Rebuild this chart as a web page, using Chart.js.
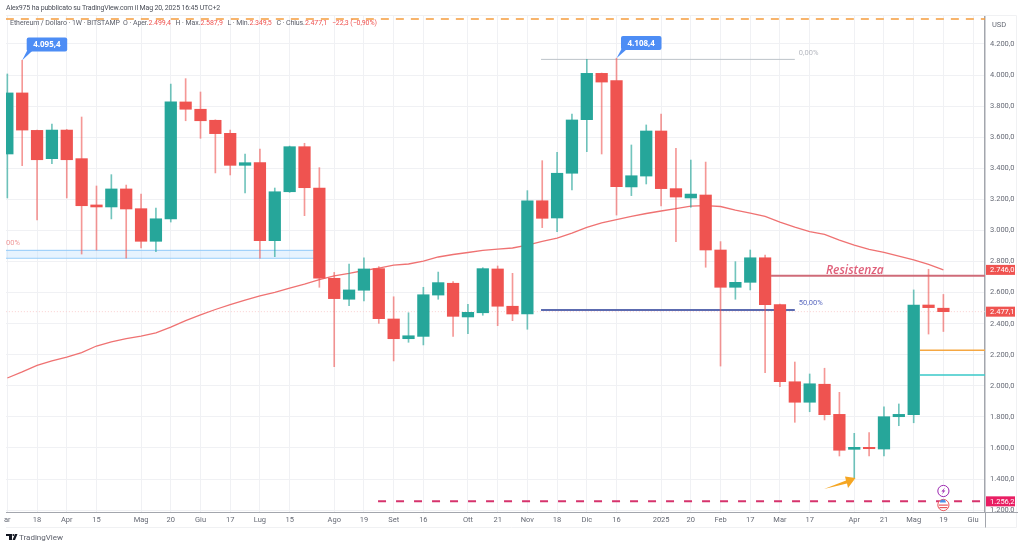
<!DOCTYPE html>
<html lang="it">
<head>
<meta charset="utf-8">
<title>Ethereum / Dollaro</title>
<script src="https://cdn.jsdelivr.net/npm/chart.js@4"></script>
<style>
  html, body { margin: 0; padding: 0; background: #fff; width: 1024px; height: 547px; overflow: hidden; }
  canvas { position: absolute; left: 0; top: 0; }
  .txt { position: absolute; white-space: nowrap; font-family: Roboto, sans-serif; color: #4a4e58; }
  #author { left: 6px; top: 3px; font-size: 7px; line-height: 10px; letter-spacing: -0.16px; }
  #legend { left: 10px; top: 18px; font-size: 7px; line-height: 10px; color: #5d606b; letter-spacing: -0.08px; }
  #legend b { font-weight: normal; color: #ef5350; margin-right: 3px; }
  #brand { left: 19px; top: 532px; font-size: 8px; line-height: 11px; color: #5d606b; }
</style>
</head>
<body>
<canvas id="chart" width="1024" height="547"></canvas>
<div class="txt" id="author">Alex975 ha pubblicato su TradingView.com il Mag 20, 2025 16:45 UTC+2</div>
<div class="txt" id="legend">Ethereum / Dollaro · 1W · BITSTAMP&nbsp; O · Aper.<b>2.499,4</b> H · Max.<b>2.587,9</b> L · Min.<b>2.349,5</b> C · Chius.<b>2.477,1</b> <b>−22,3 (−0,90%)</b></div>
<div class="txt" id="brand">TradingView</div>

<script>
// Weekly candles
const opens = [3492, 3885, 3644, 3462, 3646, 3462, 3164, 3151, 3267, 3140, 2930, 3074, 3827, 3780, 3709, 3625,
  3419, 3436, 2934, 3249, 3539, 3273, 2692, 2557, 2615, 2754, 2430, 2303, 2318, 2584, 2660, 2443,
  2470, 2752, 2512, 2462, 3191, 3080, 3368, 3713, 4011, 3964, 3280, 3350, 3640, 3269, 3209, 3228,
  2874, 2634, 2666, 2824, 2522, 2026, 1894, 2010, 1816, 1591, 1604, 1593, 1801, 1814, 2520, 2499.4];
const closes = [3885, 3646, 3455, 3646, 3455, 3159, 3151, 3267, 3138, 2930, 3075, 3827, 3780, 3706, 3623, 3419,
  3436, 2934, 3249, 3539, 3275, 2692, 2561, 2617, 2752, 2432, 2303, 2322, 2586, 2664, 2447, 2473,
  2754, 2512, 2462, 3191, 3078, 3368, 3711, 4011, 3955, 3281, 3352, 3640, 3269, 3215, 3234, 2874,
  2634, 2666, 2824, 2522, 2026, 1894, 2013, 1814, 1585, 1604, 1595, 1801, 1816, 2520, 2503, 2477.1];
const highs = [4007, 4095.4, 3646, 3685, 3650, 3730, 3286, 3359, 3292, 3234, 3144, 3942, 3977, 3891, 3712, 3646,
  3492, 3524, 3273, 3543, 3561, 3404, 2730, 2784, 2824, 2767, 2573, 2470, 2634, 2732, 2670, 2525,
  2760, 2771, 2724, 3256, 3449, 3503, 3749, 4101, 4013, 4108.4, 3550, 3679, 3749, 3529, 3453, 3440,
  2928, 2799, 2874, 2842, 2526, 2153, 2076, 2113, 1958, 1694, 1698, 1865, 1883, 2617, 2750, 2587.9];
const lows = [3209, 3417, 3067, 3430, 3209, 2848, 2874, 3074, 2822, 2887, 2863, 3054, 3706, 3593, 3370, 3357,
  3241, 2822, 2831, 3245, 3095, 2634, 2123, 2516, 2546, 2402, 2160, 2280, 2263, 2557, 2318, 2335,
  2454, 2387, 2419, 2364, 3018, 2992, 3260, 3507, 3492, 3099, 3224, 3299, 3157, 2928, 3149, 2763,
  2127, 2557, 2617, 2084, 1994, 1765, 1833, 1780, 1548, 1405, 1548, 1548, 1743, 1762, 2333, 2349.5];
const movingAvg = [2050, 2089, 2131, 2160, 2185, 2214, 2256, 2282, 2304, 2320, 2340, 2378, 2420, 2456, 2491, 2523,
  2552, 2578, 2602, 2629, 2655, 2684, 2707, 2723, 2742, 2758, 2777, 2784, 2803, 2829, 2845, 2858,
  2871, 2880, 2887, 2906, 2929, 2951, 2983, 3019, 3048, 3070, 3090, 3109, 3125, 3141, 3156, 3160,
  3154, 3131, 3112, 3090, 3054, 3022, 2993, 2974, 2938, 2906, 2878, 2858, 2835, 2810, 2781, 2746];

// Axis ticks
const yTickValues = [1200, 1400, 1600, 1800, 2000, 2200, 2400, 2600, 2800, 3000, 3200, 3400, 3600, 3800, 4000, 4200];
const xTickValues = [0, 2, 4, 6, 9, 11, 13, 15, 17, 19, 22, 24, 26, 28, 31, 33, 35, 37, 39, 41, 44, 46, 48, 50, 52, 54, 57, 59, 61, 63, 65];
const xTickLabels = ["ar", "18", "Apr", "15", "Mag", "20", "Giu", "17", "Lug", "15", "Ago", "19", "Set", "16", "Ott", "21",
  "Nov", "18", "Dic", "16", "2025", "20", "Feb", "17", "Mar", "17", "Apr", "21", "Mag", "19", "Giu"];

// Drawn levels: price, and where they start and stop in candle units
const topDashed = [4361, -0.1, 65.9];
const supportDashed = [1256.2, 24.95, 65.9];
const resistance = [2709, 51.4, 65.9];
const fibHalf = [2488, 35.92, 53];
const fibZero = [4101, 35.92, 53];
const orangeLevel = [2228, 61.42, 65.9];
const cyanLevel = [2069.5, 61.42, 65.9];
const lastPrice = [2477.1, -0.1, 65.9];
const zoneTop = [2872, -0.1, 21];
const zoneBottom = [2821, -0.1, 21];

const RED = "#ef5350";
const GREEN = "#26a69a";
const MUTED = "#666a75";

// 4200 -> "4.200,0"
function formatPrice(v) {
  const parts = v.toFixed(1).split(".");
  return parts[0].replace(/\B(?=(\d{3})+$)/g, ".") + "," + parts[1];
}

// Flat line between two candle positions
function levelDataset(level, color, width, dash, extra) {
  return Object.assign({
    type: "line",
    data: [{ x: level[1], y: level[0] }, { x: level[2], y: level[0] }],
    borderColor: color,
    borderWidth: width,
    borderDash: dash || [],
    pointRadius: 0,
    order: 5,
  }, extra || {});
}

const candleColors = opens.map((o, i) => (closes[i] >= o ? GREEN : RED));
const wickColors = opens.map((o, i) => (closes[i] >= o ? "rgba(38,166,154,0.65)" : "rgba(239,83,80,0.6)"));

const datasets = [
  {
    type: "bar",
    data: opens.map((o, i) => ({ x: i, y: [o, closes[i]] })),
    backgroundColor: candleColors,
    barThickness: 11.6,
    grouped: false,
    order: 1,
  },
  {
    type: "bar",
    data: lows.map((l, i) => ({ x: i, y: [l, highs[i]] })),
    backgroundColor: wickColors,
    barThickness: 1,
    grouped: false,
    order: 2,
  },
  {
    type: "line",
    data: movingAvg.map((v, i) => ({ x: i, y: v })),
    borderColor: "#ef7272",
    borderWidth: 1.3,
    pointRadius: 0,
    order: 4,
  },
  levelDataset(zoneTop, "#90caf9", 1, null, { fill: "+1", backgroundColor: "rgba(187,222,251,0.35)" }),
  levelDataset(zoneBottom, "#90caf9", 1),
  levelDataset(lastPrice, "#f9cfcf", 1, [1, 2]),
  levelDataset(topDashed, "#f59c3d", 1.5, [8, 7]),
  levelDataset(supportDashed, "#d6336c", 2, [8, 10]),
  levelDataset(resistance, "#cf6b78", 2),
  levelDataset(fibHalf, "#5c6bb0", 2),
  levelDataset(fibZero, "#bcc3c9", 1),
  levelDataset(orangeLevel, "#f5a742", 1.5),
  levelDataset(cyanLevel, "#38c8c8", 1.5),
];

// Everything TradingView draws on top: labels, tags, callouts, arrow, icons
const overlayPlugin = {
  id: "overlay",
  afterDraw(chart) {
    const ctx = chart.ctx;
    const xs = chart.scales.x;
    const ys = chart.scales.y;
    ctx.save();
    ctx.textBaseline = "middle";

    // frame around the axes
    ctx.strokeStyle = "#f0f1f3";
    ctx.lineWidth = 1;
    ctx.beginPath();
    ctx.moveTo(6, 15.5); ctx.lineTo(1016.5, 15.5); ctx.lineTo(1016.5, 527.5); ctx.lineTo(6, 527.5);
    ctx.stroke();
    ctx.strokeStyle = "#a3a6ad";
    ctx.beginPath();
    ctx.moveTo(985.5, 512); ctx.lineTo(985.5, 527.5);
    ctx.moveTo(985, 512.5); ctx.lineTo(1018, 512.5);
    ctx.stroke();

    ctx.textAlign = "left";
    ctx.font = "7.5px Roboto";
    ctx.fillStyle = MUTED;
    ctx.fillText("USD", 992, 25);

    // fib labels
    ctx.fillStyle = "#b6b9c0";
    ctx.fillText("0,00%", xs.getPixelForValue(fibZero[2]) + 4, ys.getPixelForValue(fibZero[0]) - 6);
    ctx.fillStyle = "#5c6bc0";
    ctx.fillText("50,00%", xs.getPixelForValue(fibHalf[2]) + 4, ys.getPixelForValue(fibHalf[0]) - 7);
    ctx.fillStyle = "#ef9a9a";
    ctx.fillText("00%", 6, ys.getPixelForValue(zoneTop[0]) - 7);

    ctx.font = "italic 600 12px 'Open Sans'";
    ctx.fillStyle = "#e0607a";
    ctx.fillText("Resistenza", 826, ys.getPixelForValue(resistance[0]) - 5.5);

    drawTag(ctx, ys, movingAvg[movingAvg.length - 1], RED);
    drawTag(ctx, ys, closes[closes.length - 1], RED);
    drawTag(ctx, ys, supportDashed[0], "#e91e63");

    drawCallout(ctx, xs.getPixelForValue(1), ys.getPixelForValue(highs[1]), 26.7, 37.5, highs[1]);
    drawCallout(ctx, xs.getPixelForValue(41), ys.getPixelForValue(highs[41]), 621, 36, highs[41]);

    // orange arrow next to the April low
    ctx.fillStyle = "#f5a623";
    ctx.beginPath();
    ctx.moveTo(824, 489); ctx.lineTo(846, 480.5); ctx.lineTo(845, 476.5); ctx.lineTo(855.5, 478);
    ctx.lineTo(848, 488); ctx.lineTo(847, 483.5);
    ctx.closePath();
    ctx.fill();

    // event icons under the last candle
    const cx = xs.getPixelForValue(63);
    ctx.fillStyle = "#fff";
    ctx.strokeStyle = "#9c27b0";
    ctx.lineWidth = 1;
    ctx.beginPath(); ctx.arc(cx, 491, 5.6, 0, Math.PI * 2); ctx.fill(); ctx.stroke();
    ctx.fillStyle = "#9c27b0";
    ctx.beginPath();
    ctx.moveTo(cx + 1.6, 487.6); ctx.lineTo(cx - 2, 491.6); ctx.lineTo(cx, 491.6); ctx.lineTo(cx - 1.6, 494.4);
    ctx.lineTo(cx + 2, 490.4); ctx.lineTo(cx, 490.4);
    ctx.closePath();
    ctx.fill();

    ctx.fillStyle = "#fff";
    ctx.strokeStyle = "#e8555a";
    ctx.beginPath(); ctx.arc(cx, 505, 5.6, 0, Math.PI * 2); ctx.fill(); ctx.stroke();
    ctx.fillStyle = "#e8555a";
    ctx.fillRect(cx - 4.5, 504.5, 9, 1.2);
    ctx.fillRect(cx - 4, 507, 8, 1.2);
    ctx.fillStyle = "#4f8fe6";
    ctx.beginPath(); ctx.arc(cx - 0.5, 502.5, 3, Math.PI, 0); ctx.fill();

    // TradingView logo
    ctx.fillStyle = "#131722";
    ctx.fillRect(6, 534, 6, 2);
    ctx.fillRect(9, 534, 3, 6);
    ctx.beginPath(); ctx.arc(13.4, 535, 1, 0, Math.PI * 2); ctx.fill();
    ctx.beginPath();
    ctx.moveTo(15, 534); ctx.lineTo(17.5, 534); ctx.lineTo(15, 540); ctx.lineTo(12.5, 540);
    ctx.closePath();
    ctx.fill();
    ctx.restore();
  },
};

// Price tag on the right axis
function drawTag(ctx, ys, value, color) {
  const y = ys.getPixelForValue(value);
  ctx.fillStyle = color;
  ctx.fillRect(986, y - 5, 29, 10);
  ctx.fillStyle = "#fff";
  ctx.font = "7.5px Roboto";
  ctx.textAlign = "left";
  ctx.fillText(formatPrice(value), 990, y + 0.5);
}

// Blue box with a tail pointing at a candle's high
function drawCallout(ctx, tipX, tipY, left, top, value) {
  ctx.fillStyle = "#4d8df5";
  ctx.beginPath();
  ctx.moveTo(tipX, tipY);
  ctx.lineTo(left + 0.5, top + 13);
  ctx.lineTo(left + 6, top + 13);
  ctx.closePath();
  ctx.fill();
  ctx.beginPath();
  ctx.roundRect(left, top, 40.5, 14, 2);
  ctx.fill();
  ctx.fillStyle = "#fff";
  ctx.font = "bold 8px 'Open Sans'";
  ctx.textAlign = "center";
  ctx.fillText(formatPrice(value), left + 20.2, top + 7.5);
}

new Chart(document.getElementById("chart").getContext("2d"), {
  data: { datasets: datasets },
  plugins: [overlayPlugin],
  options: {
    responsive: false,
    animation: false,
    devicePixelRatio: 1,
    layout: { padding: { left: 6, top: 16, right: 0, bottom: 0 } },
    plugins: { legend: { display: false }, tooltip: { enabled: false } },
    scales: {
      x: {
        type: "linear",
        offset: false,
        min: -0.09,
        max: 65.8,
        afterBuildTicks(scale) { scale.ticks = xTickValues.map((v) => ({ value: v })); },
        afterFit(scale) { scale.height = 35; },
        grid: { color: "#f0f1f4", drawTicks: false, offset: false },
        border: { display: true, color: "#a3a6ad", width: 1 },
        ticks: {
          autoSkip: false,
          maxRotation: 0,
          padding: 4,
          color: MUTED,
          font: { family: "Roboto", size: 7.5 },
          callback: (value, index) => xTickLabels[index],
        },
      },
      y: {
        type: "linear",
        position: "right",
        min: 1187.6,
        max: 4380.2,
        afterBuildTicks(scale) { scale.ticks = yTickValues.map((v) => ({ value: v })); },
        afterFit(scale) { scale.width = 39; },
        grid: { color: "#f0f1f4", drawTicks: false },
        border: { display: true, color: "#a3a6ad", width: 1.5 },
        ticks: {
          padding: 5,
          color: MUTED,
          font: { family: "Roboto", size: 7.5 },
          callback: (value) => formatPrice(value),
        },
      },
    },
  },
});
</script>
</body>
</html>
